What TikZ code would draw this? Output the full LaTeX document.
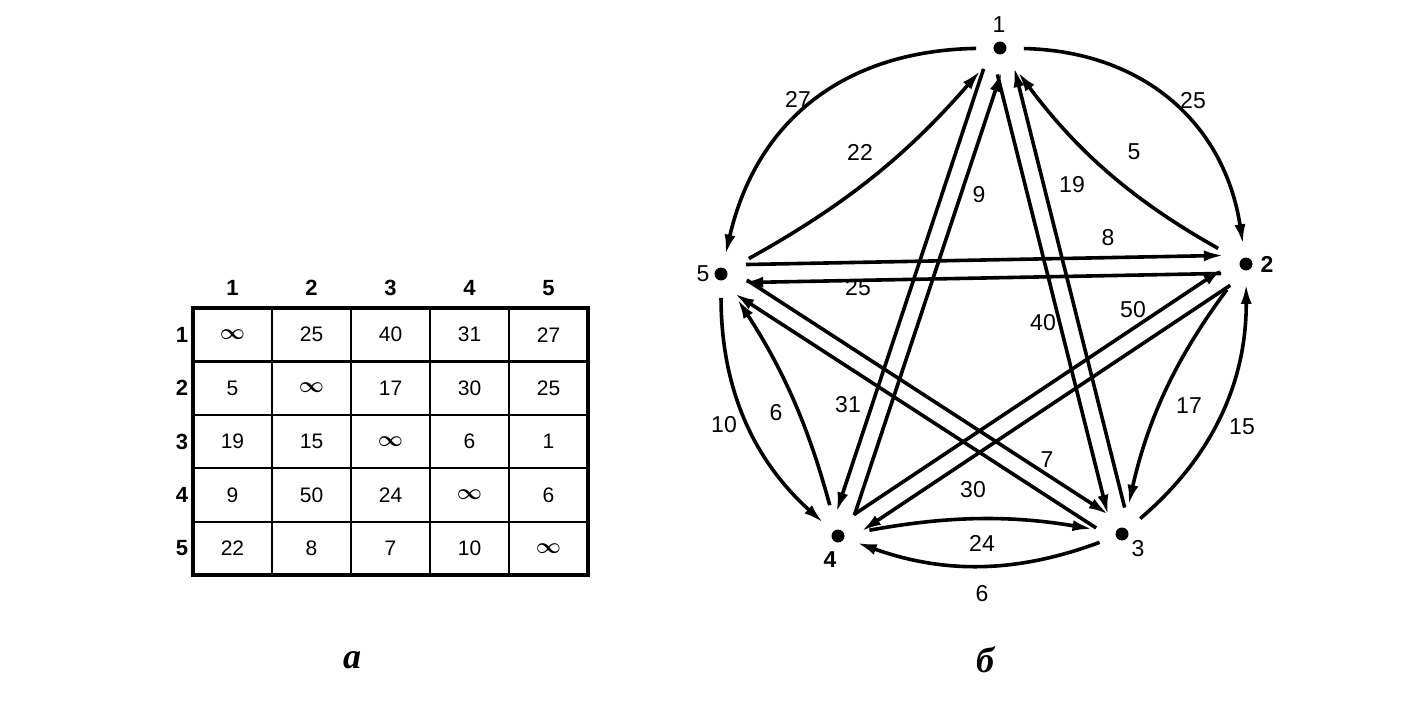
\documentclass[tikz,border=0pt]{standalone}
\usepackage{amsmath}
\usepackage{fontspec}
\setmainfont{Liberation Sans}
\newfontfamily\captionfont{Liberation Serif}
\usetikzlibrary{arrows.meta,calc}
\newcommand{\twin}[3]{\draw[wline,shorten <=12.5pt,shorten >=11pt] ($(#1)!4.5pt!#3:(#2)$) -- ($(#2)!4.5pt!#3+180:(#1)$);}
\newcommand{\inft}{$\boldsymbol{\infty}$}

\begin{document}
\begin{tikzpicture}[x=0.5pt,y=-0.5pt]
  \tikzset{wline/.style={line width=1.8pt,-{Latex[length=10pt,width=5.5pt]}},
    outarc/.style={wline,shorten <=8.5pt,shorten >=6.5pt},
    inarc/.style={wline,shorten <=12.5pt,shorten >=11.5pt},
    vtx/.style={circle,fill,inner sep=0pt,minimum size=6.5pt},
    vlbl/.style={font=\fontsize{11.5}{13}\selectfont},
    wlbl/.style={font=\fontsize{11.5}{13}\selectfont},
    cell/.style={font=\fontsize{10.5}{12}\selectfont},
    head/.style={font=\bfseries\fontsize{11}{12}\selectfont}}
  \useasboundingbox (0,0) rectangle (1424,717);

  % matrix
  \foreach \k in {1,...,4} {
    \draw[line width=1.1pt] (193+79*\k,308) -- (193+79*\k,575);
    \draw[line width=1.1pt] (193,308+53.4*\k) -- (588,308+53.4*\k);
  }
  \draw[line width=1.6pt] (193,308) rectangle (588,575);
  \foreach \j in {1,...,5} {
    \node[head] (h\j) at (153.5+79*\j,288) {\j};
    \node[head] (r\j) at (182,281.3+53.4*\j) {\j};
  }
  \foreach \row [count=\i] in {{\inft,25,40,31,27},{5,\inft,17,30,25},
      {19,15,\inft,6,1},{9,50,24,\inft,6},{22,8,7,10,\inft}}
    \foreach \val [count=\j] in \row
      \node[cell] (c\i\j) at (153.5+79*\j,281.3+53.4*\i) {\val};
  \node (capa) at (352,660) {\captionfont\bfseries\itshape\fontsize{18}{20}\selectfont а};

  % graph
  \node[vtx] (n1) at (1000,48) {};
  \node[vtx] (n2) at (1246,264) {};
  \node[vtx] (n3) at (1122,534) {};
  \node[vtx] (n4) at (838,536) {};
  \node[vtx] (n5) at (721,274) {};
  \node[vlbl] (t1) at (999,25) {1};
  \node[vlbl] (t2) at (1267,264) {\bfseries 2};
  \node[vlbl] (t3) at (1138,549) {3};
  \node[vlbl] (t4) at (830,560) {\bfseries 4};
  \node[vlbl] (t5) at (703,274) {5};

  \draw[outarc] (n1) to[bend left=40,looseness=1.1] (n2);
  \draw[outarc] (n1) to[bend right=38,looseness=1.1] (n5);
  \draw[outarc] (n3) to[bend right=25] (n2);
  \draw[outarc] (n5) to[bend right=24] (n4);
  \draw[outarc] (n3) to[bend left=20] (n4);
  \draw[inarc] (n2) to[bend left=12] (n1);
  \draw[inarc] (n5) to[bend right=10] (n1);
  \draw[inarc] (n2) to[bend right=12] (n3);
  \draw[inarc] (n4) to[bend right=9] (n5);
  \draw[inarc] (n4) to[bend left=10] (n3);
  \twin{n1}{n4}{-90}
  \twin{n4}{n1}{-90}
  \twin{n1}{n3}{-90}
  \twin{n3}{n1}{-90}
  \twin{n5}{n2}{90}
  \twin{n2}{n5}{90}
  \twin{n5}{n3}{90}
  \twin{n3}{n5}{90}
  \twin{n4}{n2}{90}
  \twin{n2}{n4}{90}

  \node[wlbl] (w12) at (1193,101) {25};
  \node[wlbl] (w21) at (1134,152) {5};
  \node[wlbl] (w15) at (798,99) {27};
  \node[wlbl] (w51) at (860,152) {22};
  \node[wlbl] (w41) at (979,195) {9};
  \node[wlbl] (w31) at (1072,185) {19};
  \node[wlbl] (w52) at (1108,238) {8};
  \node[wlbl] (w25) at (858,288) {25};
  \node[wlbl] (w13) at (1043,323) {40};
  \node[wlbl] (w42) at (1133,310) {50};
  \node[wlbl] (w54) at (724,425) {10};
  \node[wlbl] (w45) at (776,413) {6};
  \node[wlbl] (w14) at (848,405) {31};
  \node[wlbl] (w53) at (1047,460) {7};
  \node[wlbl] (w24) at (973,490) {30};
  \node[wlbl] (w23) at (1189,406) {17};
  \node[wlbl] (w32) at (1242,427) {15};
  \node[wlbl] (w43) at (982,543) {24};
  \node[wlbl] (w34) at (982,594) {6};
  \node (capb) at (985,660) {\captionfont\bfseries\itshape\fontsize{18}{20}\selectfont б};
\end{tikzpicture}
\end{document}
